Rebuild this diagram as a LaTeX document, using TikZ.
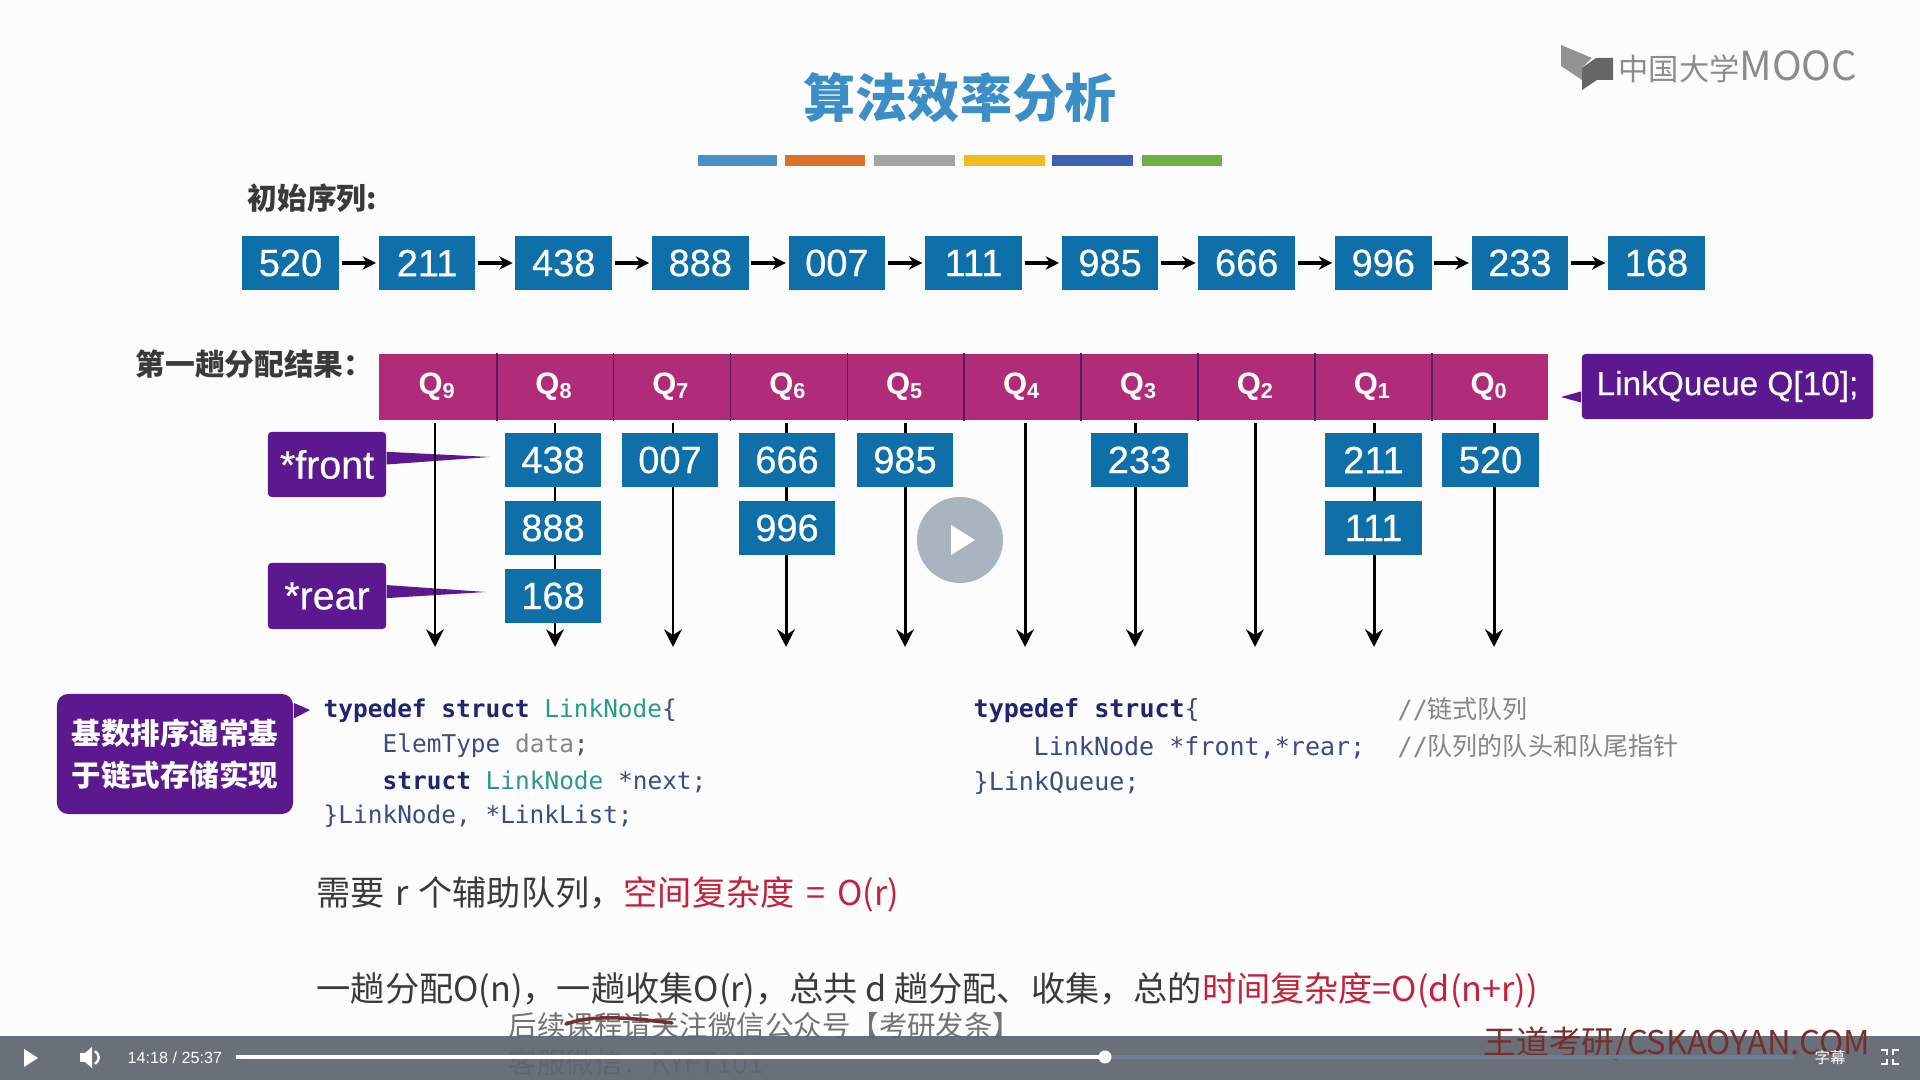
\documentclass[tikz,border=0pt]{standalone}
\usepackage{fontspec}
\setmainfont{Liberation Sans}
\newfontfamily\boxfont[FakeBold=0.5]{Liberation Sans}
\newfontfamily\cjk{Noto Sans CJK SC}
\newfontfamily\codefont{DejaVu Sans Mono}
\usetikzlibrary{arrows.meta,calc}
\definecolor{boxblue}{HTML}{0F6FA9}
\definecolor{qmagenta}{HTML}{B02C78}
\definecolor{qline}{HTML}{5A1A60}
\definecolor{purplebox}{HTML}{5C188E}
\definecolor{redtext}{HTML}{C2233A}
\definecolor{bodytext}{HTML}{3A3A3A}
\definecolor{titleblue}{HTML}{3C8FC6}
\definecolor{codenavy}{HTML}{20256F}
\definecolor{codeslate}{HTML}{3E4A85}
\definecolor{codeteal}{HTML}{2A9A88}
\definecolor{codegray}{HTML}{858585}
\definecolor{barcolor}{HTML}{5F6670}
\definecolor{bufcolor}{HTML}{6F7C90}
\definecolor{markred}{HTML}{74302E}
\definecolor{playgray}{HTML}{A9B3BF}
\tikzset{
    numbox/.style={fill=boxblue, text=white, minimum width=0.965cm, minimum height=0.54cm, inner sep=0pt, font=\fontsize{10.8}{13}\boxfont},
    qcell/.style={fill=qmagenta, text=white, minimum width=1.169cm, minimum height=0.66cm, inner sep=0pt, font=\fontsize{8.8}{10}\selectfont\bfseries},
    ptrbox/.style={fill=purplebox, text=white, rounded corners=1pt, inner sep=0pt, font=\fontsize{11.2}{13}\boxfont},
    rowarrow/.style={-{Stealth[length=3.8pt,width=3.8pt]}, line width=0.9pt, black, shorten <=0.6pt, shorten >=0.6pt},
    downarrow/.style={-{Stealth[length=5pt,width=5pt]}, line width=0.85pt, black, shorten <=0.7pt},
    codeline/.style={anchor=west, inner sep=0pt, text=codeslate, font=\fontsize{6.95}{8}\codefont},
    coderight/.style={codeline, font=\fontsize{7.12}{8}\codefont},
    bodyline/.style={anchor=west, inner sep=0pt, text=bodytext, font=\fontsize{9.72}{11}\cjk},
    headline/.style={anchor=west, inner sep=0pt, text=bodytext, font=\fontsize{8.45}{10}\cjk\bfseries},
    barlabel/.style={inner sep=0pt, text=white, font=\fontsize{4.6}{6}\selectfont}
}
\begin{document}
\begin{tikzpicture}[x=0.01cm, y=-0.01cm]
    \useasboundingbox (0,0) rectangle (1920,1080);
    \fill[white!99!black] (0,0) rectangle (1920,1080);
    %%%%%%%%%%%%%%% Title and colour strip
    \node[text=titleblue, inner sep=0pt, font=\fontsize{14.8}{18}\cjk\bfseries] (title) at (960,98) {算法效率分析};
    \foreach \xa/\xb/\c in {698/777/4A90C8,785/865/D9722B,874/955/A3A3A3,964/1045/F0BB1E,1052/1133/3F5FB5,1142/1222/6DAE45} {
        \definecolor{stripcol}{HTML}{\c}
        \fill[stripcol] (\xa,155) rectangle (\xb,166);
    }
    %%%%%%%%%%%%%%% Logo
    \fill[gray!85] (1561,45) -- (1592,58) -- (1582,68) -- (1582,80) -- (1561,66) -- cycle;
    \fill[gray!80!black] (1582,68) -- (1596,58) -- (1613,58) -- (1613,80) -- (1597,80) -- (1582,90) -- cycle;
    \node[anchor=west, inner sep=0pt, text=gray!90, font=\fontsize{8.6}{10}\cjk] (logo) at (1618,67) {中国大学{\fontsize{11.4}{10}\selectfont MOOC}};
    %%%%%%%%%%%%%%% Initial sequence
    \node[headline] (initlabel) at (247,198) {初始序列:};
    \foreach \v/\x in {520/290.5,211/427.1,438/563.7,888/700.3,007/836.9,111/973.5,985/1110.1,666/1246.7,996/1383.3,233/1519.9,168/1656.5} {
        \node[numbox] (r\v) at (\x,263) {\v};
    }
    \foreach \a/\b in {520/211,211/438,438/888,888/007,007/111,111/985,985/666,666/996,996/233,233/168} {
        \draw[rowarrow] (r\a) -- (r\b);
    }
    %%%%%%%%%%%%%%% Queue header
    \node[headline] (passlabel) at (135,364) {第一趟分配结果：};
    \foreach \i/\x in {9/437.5,8/554.4,7/671.3,6/788.2,5/905.1,4/1022,3/1138.9,2/1255.8,1/1372.7,0/1489.6} {
        \node[qcell] (q\i) at (\x,387) {\raisebox{-0.7pt}{Q\textsubscript{\i}}};
    }
    \foreach \i in {9,8,7,6,5,4,3,2,1} {
        \draw[qline, line width=0.5pt] (q\i.north east) -- (q\i.south east);
    }
    \node[ptrbox, minimum width=2.91cm, minimum height=0.65cm, font=\fontsize{9.5}{11}\boxfont] (linkq) at (1727.5,386.5) {\raisebox{-0.7pt}{LinkQueue Q[10];}};
    \coordinate (linktip) at (1561,397);
    \fill[purplebox] ([yshift=-1.6pt]linkq.west |- linktip) -- (linktip) -- ([yshift=1.6pt]linkq.west |- linktip) -- cycle;
    %%%%%%%%%%%%%%% Pointer boxes
    \node[ptrbox, minimum width=1.18cm, minimum height=0.65cm] (front) at (327,464.5) {*front};
    \node[ptrbox, minimum width=1.18cm, minimum height=0.66cm] (rear) at (327,596) {*rear};
    \coordinate (fronttip) at (490,457);
    \coordinate (reartip) at (486,592);
    \fill[purplebox] (front.east) -- ([yshift=3.6pt]front.east) -- (fronttip) -- cycle;
    \fill[purplebox] ([yshift=-0.6pt]rear.east) -- ([yshift=3.1pt]rear.east) -- (reartip) -- cycle;
    %%%%%%%%%%%%%%% Vertical arrows
    \foreach \i/\x in {9/435,8/555,7/673,6/786,5/905,4/1025,3/1135,2/1255,1/1374,0/1494} {
        \coordinate (end\i) at (\x,647);
        \draw[downarrow] (q\i.south -| end\i) -- (end\i);
    }
    %%%%%%%%%%%%%%% Boxes in the queues
    \foreach \v/\x/\y in {438/553/460,888/553/528,168/553/596,007/670/460,666/787/460,996/787/528,985/905/460,233/1139.5/460,211/1373.5/460,111/1373.5/528,520/1490.5/460} {
        \node[numbox] (n\v) at (\x,\y) {\v};
    }
    %%%%%%%%%%%%%%% Callout
    \node[ptrbox, rounded corners=3.2pt, minimum width=2.36cm, minimum height=1.2cm, align=center, font=\fontsize{8.4}{12}\cjk\bfseries] (note) at (175,754) {基数排序通常基\\于链式存储实现};
    \coordinate (notetip) at (310,710);
    \fill[purplebox] ([yshift=2pt]note.east |- notetip) -- (notetip) -- ([yshift=-2.4pt]note.east |- notetip) -- cycle;
    %%%%%%%%%%%%%%% Code left
    \node[codeline] (cla) at (323,710.5) {\textcolor{codenavy}{\bfseries typedef struct} \textcolor{codeteal}{LinkNode}\{};
    \node[codeline] (clb) at (382,745.5) {ElemType \textcolor{codegray}{data};};
    \node[codeline] (clc) at (382,781.5) {\textcolor{codenavy}{\bfseries struct} \textcolor{codeteal}{LinkNode} *next;};
    \node[codeline] (cld) at (323,816.5) {\}LinkNode, *LinkList;};
    %%%%%%%%%%%%%%% Code right
    \node[coderight] (cra) at (973,710.5) {\textcolor{codenavy}{\bfseries typedef struct}\{};
    \node[coderight] (crb) at (1033,747.5) {LinkNode *front,*rear;};
    \node[coderight] (crc) at (973,783.5) {\}LinkQueue;};
    \node[coderight, text=codegray] (cma) at (1397,709) {//{\cjk 链式队列}};
    \node[coderight, text=codegray] (cmb) at (1397,746) {//{\cjk 队列的队头和队尾指针}};
    %%%%%%%%%%%%%%% Complexity lines
    \node[bodyline] (space) at (316,894.5) {需要\hspace{0.7pt} r \hspace{0.7pt}个辅助队列，\textcolor{redtext}{空间复杂度\hspace{1.2pt} = \hspace{1.2pt}O(r)}};
    \node[bodyline] (time) at (316,990.5) {一趟分配O(n)，一趟收集O(r)，总共 d 趟分配、收集，总的\textcolor{redtext}{时间复杂度=O(d(n+r))}};
    %%%%%%%%%%%%%%% Burned in captions under the bar
    \node[anchor=west, inner sep=0pt, text=gray!90!black, font=\fontsize{8.1}{9}\cjk] (subone) at (508,1026) {后续课程请关注微信公众号【考研发条】};
    \node[anchor=west, inner sep=0pt, text=gray!90!black, font=\fontsize{8.1}{9}\cjk] (subtwo) at (508,1063) {客服微信：KYFT101};
    \draw[markred, line width=1pt, line cap=round] (566,1024) .. controls (595,1014) and (630,1018) .. (672,1023);
    %%%%%%%%%%%%%%% Player bar
    \fill[barcolor, fill opacity=0.93] (0,1036) rectangle (1920,1080);
    \node[anchor=west, inner sep=0pt, text=markred, font=\fontsize{9.3}{11}\cjk] (mark) at (1483,1044) {王道考研/CSKAOYAN.COM};
    \fill[white] (24,1049) -- (38,1058) -- (24,1067) -- cycle;
    \fill[white] (80,1053) -- (85,1053) -- (92,1047) -- (92,1068) -- (85,1062) -- (80,1062) -- cycle;
    \draw[white, line width=0.7pt] (95,1051) .. controls (100,1055) and (100,1060) .. (95,1064);
    \node[barlabel, anchor=west] (clock) at (127,1058) {14:18 / 25:37};
    \fill[bufcolor] (1105,1055) rectangle (1793,1059);
    \fill[white] (236,1055) rectangle (1105,1059);
    \fill[white] (1105,1057) circle (6.5);
    \node[barlabel, font=\fontsize{4.4}{6}\cjk] (caption) at (1830,1058) {字幕};
    \draw[white, line width=0.8pt] (1881,1050) -- (1887,1050) -- (1887,1055) (1899,1050) -- (1893,1050) -- (1893,1055) (1881,1064) -- (1887,1064) -- (1887,1059) (1899,1064) -- (1893,1064) -- (1893,1059);
    %%%%%%%%%%%%%%% Big play button
    \fill[playgray] (960,540) circle (43);
    \fill[white] (951,525) -- (975,540) -- (951,555) -- cycle;
\end{tikzpicture}
\end{document}
